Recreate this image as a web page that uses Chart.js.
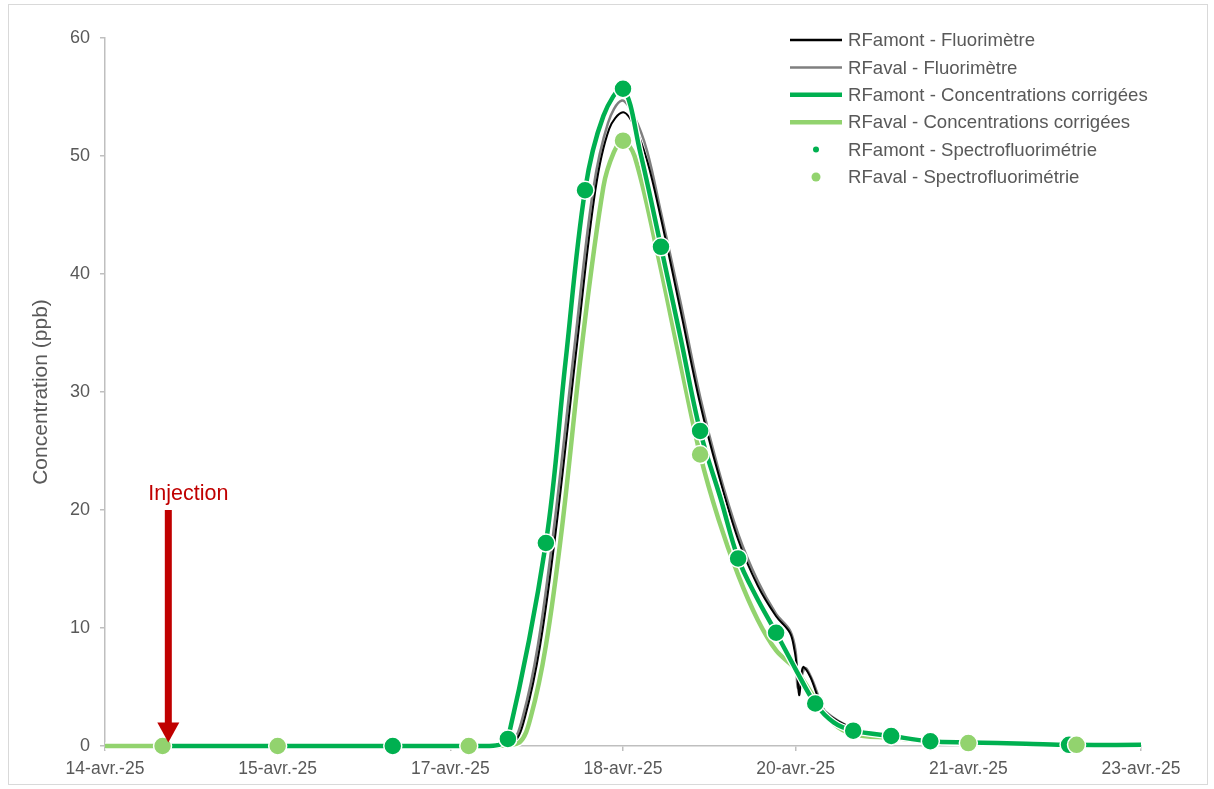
<!DOCTYPE html>
<html lang="fr">
<head>
<meta charset="utf-8">
<title>Concentration (ppb)</title>
<script src="https://cdn.jsdelivr.net/npm/chart.js@4.4.1/dist/chart.umd.min.js"></script>
<style>
  html, body { margin: 0; padding: 0; background: #fff; }
  #wrap { position: relative; width: 1214px; height: 789px; }
</style>
</head>
<body>
<div id="wrap"><canvas id="tracerChart"></canvas></div>
<script>
/* ==================================================================
   TRACAGE - courbes de restitution RFamont / RFaval
   x = jours depuis le 14-avr.-25 00:00
   ================================================================== */

// Axe X
const tickDays = [0, 1.5, 3, 4.5, 6, 7.5, 9];
const tickLabels = ['14-avr.-25', '15-avr.-25', '17-avr.-25', '18-avr.-25', '20-avr.-25', '21-avr.-25', '23-avr.-25'];

// RFamont - Fluorimètre
const amontFluoDays = [0.5, 3.35, 3.55, 3.65, 3.78, 3.92, 4.1, 4.26, 4.38, 4.5, 4.6, 4.71, 4.83, 5.0, 5.17, 5.33, 5.5, 5.67, 5.83, 5.95, 5.99, 6.01, 6.03, 6.055, 6.07, 6.13, 6.19, 6.24, 6.5, 6.83, 7.17, 7.5, 8.0, 9.0];
const amontFluoVals = [0, 0, 0.3, 2.5, 8.5, 18.5, 34, 47.1, 52.3, 53.7, 52.5, 49.6, 44.7, 36.9, 29.0, 23.0, 17.5, 13.6, 11.0, 9.6, 8.1, 6.7, 4.3, 6.4, 6.7, 5.8, 4.2, 3.0, 1.5, 0.9, 0.5, 0.3, 0.2, 0.1];

// RFaval - Fluorimètre
const avalFluoDays = [0.5, 3.33, 3.53, 3.63, 3.76, 3.9, 4.08, 4.24, 4.37, 4.49, 4.6, 4.71, 4.83, 5.0, 5.17, 5.33, 5.5, 5.67, 5.83, 5.95, 6.0, 6.02, 6.08, 6.14, 6.21, 6.26, 6.5, 6.83, 7.17, 7.5, 8.0, 9.0];
const avalFluoVals = [0, 0, 0.3, 2.5, 8.5, 18.5, 34, 47.1, 52.8, 54.7, 53.3, 50.4, 45.2, 37.6, 29.6, 23.4, 18.0, 14.0, 11.2, 9.8, 8.0, 4.9, 6.6, 5.7, 3.9, 2.9, 1.5, 0.9, 0.5, 0.3, 0.2, 0.1];

// RFamont - Concentrations corrigées
const amontCorrDays = [0.5, 3.3, 3.42, 3.5, 3.83, 4.0, 4.17, 4.33, 4.5, 4.65, 4.83, 5.0, 5.17, 5.35, 5.5, 5.66, 5.83, 6.0, 6.17, 6.33, 6.5, 6.83, 7.17, 7.5, 8.0, 8.375, 9.0];
const amontCorrVals = [0, 0, 0.1, 0.6, 17.2, 32.5, 47.1, 53.4, 55.7, 50.3, 42.3, 34.6, 26.7, 20.9, 15.9, 12.6, 9.6, 6.5, 3.6, 2.0, 1.3, 0.85, 0.4, 0.3, 0.2, 0.1, 0.1];

// RFaval - Concentrations corrigées
const avalCorrDays = [0, 3.4, 3.6, 3.7, 3.83, 3.97, 4.15, 4.33, 4.42, 4.5, 4.6, 4.79, 5.0, 5.17, 5.33, 5.5, 5.67, 5.83, 6.0, 6.17, 6.33, 6.5, 6.83, 7.17, 7.5, 8.0, 8.44, 9.0];
const avalCorrVals = [0, 0, 0.3, 2.5, 8.5, 18.5, 34.5, 47.4, 50.3, 51.3, 50.0, 42.2, 32.4, 24.7, 19.2, 14.5, 10.7, 8.1, 6.5, 4.0, 1.9, 1.0, 0.7, 0.4, 0.25, 0.15, 0.1, 0.1];

// Spectrofluorimétrie (prélèvements)
const amontSpecDays = [2.5, 3.5, 3.83, 4.17, 4.5, 4.83, 5.17, 5.5, 5.83, 6.17, 6.5, 6.83, 7.17, 8.375];
const amontSpecVals = [0, 0.6, 17.2, 47.1, 55.7, 42.3, 26.7, 15.9, 9.6, 3.6, 1.3, 0.85, 0.4, 0.1];
const avalSpecDays = [0.5, 1.5, 3.16, 4.5, 5.17, 7.5, 8.44];
const avalSpecVals = [0, 0, 0, 51.3, 24.7, 0.25, 0.1];

// Injection
const injectionDay = 0.55;
const injectionTop = 20;
const injectionTip = 0.3;

const TEXT = '#595959';
const AXIS = '#bfbfbf';
const DARK_GREEN = '#00b050';
const LIGHT_GREEN = '#92d36e';
const RED = '#c00000';
const FONT = "'Liberation Sans', Arial, sans-serif";

Chart.defaults.font.family = FONT;
Chart.defaults.color = TEXT;

function pts(days, vals) {
    return days.map((d, i) => ({ x: d, y: vals[i] }));
}

function lineSet(label, days, vals, color, width, order) {
    return {
        type: 'line',
        label: label,
        data: pts(days, vals),
        borderColor: color,
        borderWidth: width,
        pointRadius: 0,
        fill: false,
        tension: 0.35,
        clip: false,
        order: order
    };
}

function pointSet(label, days, vals, color, order, legendDot) {
    return {
        type: 'scatter',
        label: label,
        data: pts(days, vals),
        backgroundColor: color,
        borderColor: '#ffffff',
        borderWidth: 1.5,
        pointRadius: 9,
        showLine: false,
        clip: false,
        order: order,
        legendDot: legendDot
    };
}

// white halo under the corrected curves
function edgeSet(days, vals, width, order) {
    const s = lineSet('', days, vals, '#ffffff', width, order);
    s.noLegend = true;
    return s;
}

const datasets = [
    Object.assign(lineSet('RFamont - Fluorimètre', amontFluoDays, amontFluoVals, '#000000', 2, 4), { legendWidth: 2.5 }),
    Object.assign(lineSet('RFaval - Fluorimètre', avalFluoDays, avalFluoVals, '#7f7f7f', 2.5, 5), { legendWidth: 2.5 }),
    Object.assign(lineSet('RFamont - Concentrations corrigées', amontCorrDays, amontCorrVals, DARK_GREEN, 4.5, 2), { legendWidth: 4.5 }),
    Object.assign(lineSet('RFaval - Concentrations corrigées', avalCorrDays, avalCorrVals, LIGHT_GREEN, 4.5, 6), { legendWidth: 4.5 }),
    pointSet('RFamont - Spectrofluorimétrie', amontSpecDays, amontSpecVals, DARK_GREEN, 1, 3),
    pointSet('RFaval - Spectrofluorimétrie', avalSpecDays, avalSpecVals, LIGHT_GREEN, 0, 4.5),
    edgeSet(amontCorrDays, amontCorrVals, 7, 3),
    edgeSet(avalCorrDays, avalCorrVals, 7, 7)
];

// --- frame, injection arrow, legend ---
const overlayPlugin = {
    id: 'overlay',
    beforeDraw(chart) {
        const ctx = chart.ctx;
        ctx.save();
        ctx.fillStyle = '#ffffff';
        ctx.fillRect(0, 0, chart.width, chart.height);
        ctx.strokeStyle = '#d9d9d9';
        ctx.lineWidth = 1;
        ctx.strokeRect(8.5, 4.5, 1199, 780);
        ctx.restore();
    },
    afterDatasetsDraw(chart) {
        const ctx = chart.ctx;
        const x = chart.scales.x.getPixelForValue(injectionDay);
        const yTop = chart.scales.y.getPixelForValue(injectionTop);
        const yTip = chart.scales.y.getPixelForValue(injectionTip);
        const headH = 20, headW = 22, shaftW = 7;
        ctx.save();
        ctx.fillStyle = RED;
        ctx.fillRect(x - shaftW / 2, yTop, shaftW, yTip - headH - yTop + 1);
        ctx.beginPath();
        ctx.moveTo(x - headW / 2, yTip - headH);
        ctx.lineTo(x + headW / 2, yTip - headH);
        ctx.lineTo(x, yTip);
        ctx.closePath();
        ctx.fill();
        ctx.font = '21.5px ' + FONT;
        ctx.textAlign = 'center';
        ctx.textBaseline = 'middle';
        ctx.fillText('Injection', x + 20, yTop - 16);
        ctx.restore();
    },
    afterDraw(chart) {
        const ctx = chart.ctx;
        const lx = 790, ly = 40, step = 27.4, len = 52;
        const items = chart.data.datasets.filter(d => !d.noLegend);
        ctx.save();
        ctx.font = '18.6px ' + FONT;
        ctx.textBaseline = 'middle';
        ctx.textAlign = 'left';
        items.forEach((ds, i) => {
            const y = ly + i * step;
            if (ds.showLine === false) {
                ctx.fillStyle = ds.backgroundColor;
                ctx.beginPath();
                ctx.arc(lx + len / 2, y, ds.legendDot, 0, Math.PI * 2);
                ctx.fill();
            } else {
                ctx.strokeStyle = ds.borderColor;
                ctx.lineWidth = ds.legendWidth;
                ctx.beginPath();
                ctx.moveTo(lx, y);
                ctx.lineTo(lx + len, y);
                ctx.stroke();
            }
            ctx.fillStyle = TEXT;
            ctx.fillText(ds.label, lx + len + 6, y + 1);
        });
        ctx.restore();
    }
};

new Chart(document.getElementById('tracerChart').getContext('2d'), {
    type: 'line',
    data: { datasets: datasets },
    plugins: [overlayPlugin],
    options: {
        responsive: true,
        maintainAspectRatio: false,
        animation: false,
        layout: { padding: { left: 0, top: 38, right: 73, bottom: 0 } },
        plugins: {
            legend: { display: false },
            tooltip: { enabled: false }
        },
        scales: {
            x: {
                type: 'linear',
                min: 0,
                max: 9,
                afterBuildTicks(scale) {
                    scale.ticks = tickDays.map(v => ({ value: v }));
                },
                afterFit(scale) { scale.height = 43; },
                ticks: {
                    autoSkip: false,
                    maxRotation: 0,
                    padding: 8,
                    color: TEXT,
                    font: { size: 17.5 },
                    callback: (v, i) => tickLabels[i]
                },
                grid: { drawOnChartArea: false, drawTicks: true, tickLength: 5, color: AXIS, lineWidth: 1.5 },
                border: { color: AXIS, width: 1.5 }
            },
            y: {
                min: 0,
                max: 60,
                afterFit(scale) { scale.width = 105; },
                ticks: { stepSize: 10, padding: 10, color: TEXT, font: { size: 18 } },
                grid: { drawOnChartArea: false, drawTicks: true, tickLength: 5, color: AXIS, lineWidth: 1.5 },
                border: { color: AXIS, width: 1.5 },
                title: {
                    display: true,
                    text: 'Concentration (ppb)',
                    color: TEXT,
                    font: { size: 21 },
                    padding: { top: 29, bottom: 0 }
                }
            }
        }
    }
});
</script>
</body>
</html>
